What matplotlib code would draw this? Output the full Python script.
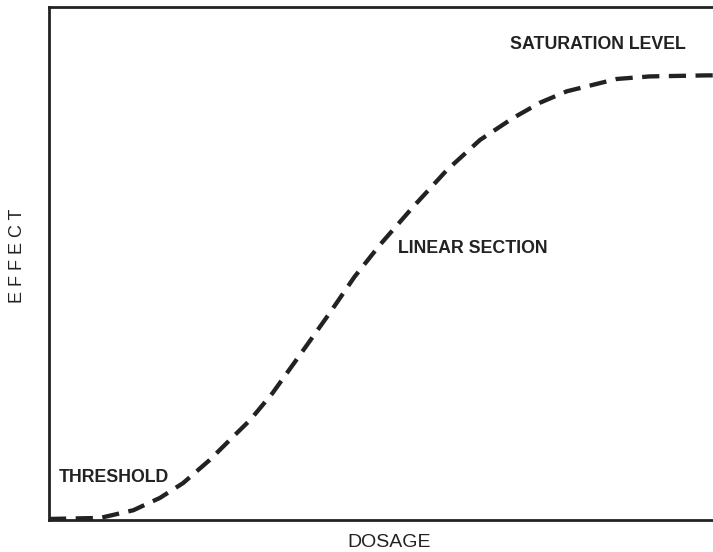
import matplotlib.pyplot as plt

# dose-response curve (axis units 0-100)
dosage = [0, 7.7, 12.7, 16.7, 20.2, 24.2, 27.7, 30.3, 33.7, 37.8, 42.3,
          46.0, 49.8, 54.8, 59.9, 64.9, 69.9, 74.0, 78.0, 85.5, 90.5, 99.1, 100]
effect = [0.2, 0.4, 1.9, 4.3, 7.2, 11.7, 16.2, 19.5, 24.8, 32.2, 40.4,
          47.4, 53.6, 61.0, 68.2, 74.1, 78.4, 81.4, 83.6, 86.0, 86.5, 86.7, 86.7]

labels = ['THRESHOLD', 'LINEAR SECTION', 'SATURATION LEVEL']
label_x = [1.4, 52.6, 69.4]
label_y = [8.2, 53.0, 92.8]

ink = '#222222'
plt.rcParams['font.family'] = ['Liberation Sans', 'DejaVu Sans']

fig = plt.figure(figsize=(7.13, 5.52), dpi=100)
ax = fig.add_axes([0.0687, 0.058, 0.9313, 0.929])

ax.plot(dosage, effect, color=ink, lw=3.1, dashes=(4.0, 2.2), dash_capstyle='butt')

for t, x, y in zip(labels, label_x, label_y):
    ax.text(x, y, t, fontsize=12.8, fontweight='bold', color=ink, va='center', ha='left')

ax.set_xlim(0, 100)
ax.set_ylim(0, 100)
ax.set_xticks([])
ax.set_yticks([])
ax.spines['right'].set_visible(False)
for s in ['left', 'top', 'bottom']:
    ax.spines[s].set_linewidth(2.0)
    ax.spines[s].set_color(ink)

ax.set_xlabel('DOSAGE', fontsize=14, color=ink)
ax.xaxis.set_label_coords(0.513, -0.027, transform=ax.transAxes)
ax.xaxis.label.set_va('top')
ax.set_ylabel('E F F E C T', fontsize=13, color=ink)
ax.yaxis.set_label_coords(-0.047, 0.515)
ax.yaxis.label.set_va('center')

plt.savefig('out.png')
